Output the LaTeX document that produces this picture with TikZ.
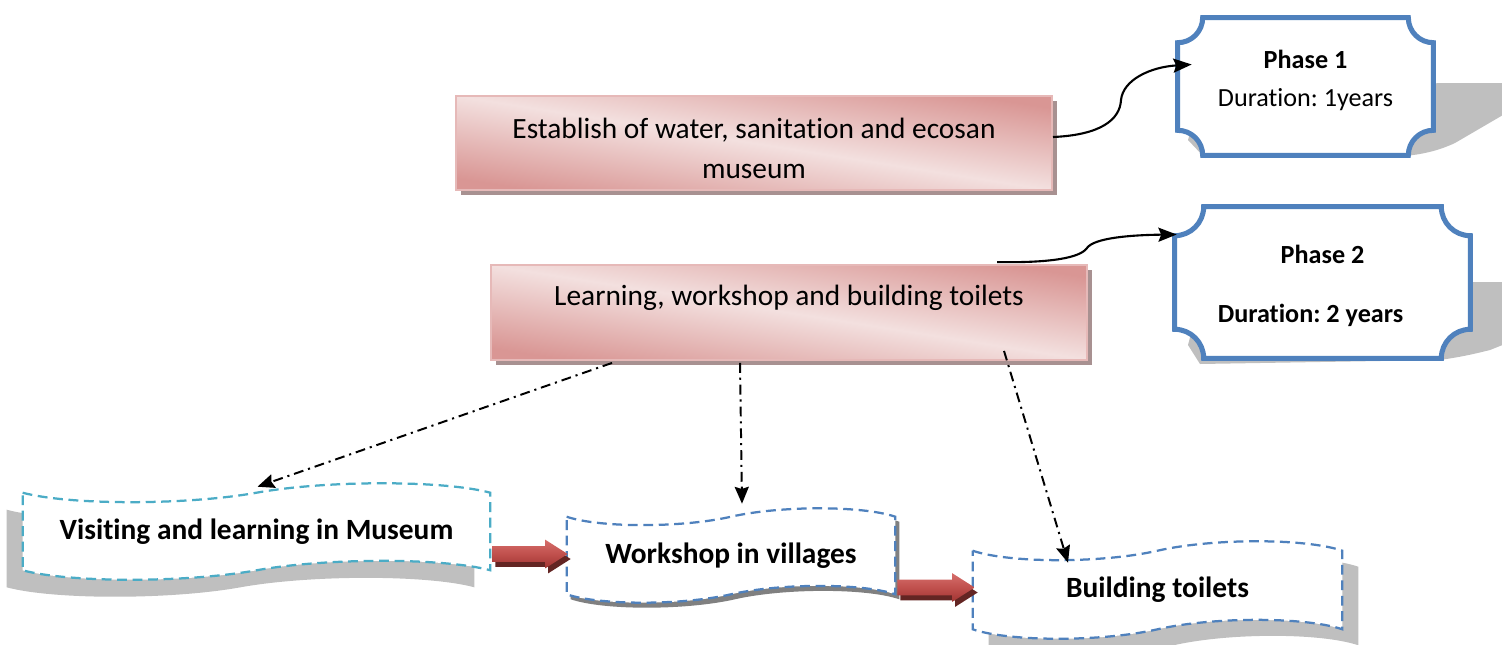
\documentclass[tikz,border=0pt]{standalone}
\usepackage{fontspec}
\setmainfont{Carlito}[Ligatures=NoCommon]
\frenchspacing
\usetikzlibrary{calc,arrows.meta,shadows}
\pgfdeclarelayer{bg}
\pgfdeclarelayer{shape}
\pgfsetlayers{bg,shape,main}
\definecolor{pinkdark}{RGB}{217,150,148}
\definecolor{pinklight}{RGB}{243,224,223}
\definecolor{pinkborder}{RGB}{230,185,184}
\definecolor{boxshadow}{RGB}{168,145,145}
\definecolor{phaseblue}{RGB}{79,129,189}
\definecolor{visitcyan}{RGB}{75,172,198}
\definecolor{shadowgray}{RGB}{191,191,191}
\definecolor{darkshadow}{RGB}{128,128,128}
\definecolor{arrowdark}{RGB}{99,37,35}
\definecolor{arrowtop}{RGB}{214,110,107}
\definecolor{arrowmid}{RGB}{192,80,77}
\definecolor{arrowbot}{RGB}{160,52,50}
\newcommand\basefont{\fontsize{20.9}{28.4}\selectfont}
\newcommand\phasefont{\fontsize{18.6}{27}\selectfont}
% wave outline of a node #1 with amplitude #2 (px)
\newcommand\wavepath[2]{%
 (#1.north west) .. controls ($(#1.north west)!0.1!(#1.north east)+(0,1.4*#2)$) and ($(#1.north west)!0.35!(#1.north east)+(0,1.4*#2)$) .. (#1.north)
 .. controls ($(#1.north west)!0.65!(#1.north east)+(0,-1.4*#2)$) and ($(#1.north west)!0.9!(#1.north east)+(0,-1.4*#2)$) .. (#1.north east)
 -- (#1.south east)
 .. controls ($(#1.south west)!0.9!(#1.south east)+(0,-1.4*#2)$) and ($(#1.south west)!0.65!(#1.south east)+(0,-1.4*#2)$) .. (#1.south)
 .. controls ($(#1.south west)!0.35!(#1.south east)+(0,1.4*#2)$) and ($(#1.south west)!0.1!(#1.south east)+(0,1.4*#2)$) .. (#1.south west) -- cycle}
% plaque outline (concave corners) of node #1 with radius #2 (px)
\newcommand\plaquepath[2]{%
 ($(#1.north west)+(#2,0)$) -- ($(#1.north east)+(-#2,0)$)
 .. controls ($(#1.north east)+(-#2,0.552*#2)$) and ($(#1.north east)+(-0.552*#2,#2)$) .. ($(#1.north east)+(0,#2)$)
 -- ($(#1.south east)+(0,-#2)$)
 .. controls ($(#1.south east)+(-0.552*#2,-#2)$) and ($(#1.south east)+(-#2,-0.552*#2)$) .. ($(#1.south east)+(-#2,0)$)
 -- ($(#1.south west)+(#2,0)$)
 .. controls ($(#1.south west)+(#2,-0.552*#2)$) and ($(#1.south west)+(0.552*#2,-#2)$) .. ($(#1.south west)+(0,-#2)$)
 -- ($(#1.north west)+(0,#2)$)
 .. controls ($(#1.north west)+(0.552*#2,#2)$) and ($(#1.north west)+(#2,0.552*#2)$) .. cycle}
% block arrow from #1 to the x of #2
\newcommand\arrowpath[2]{%
 let \p1=(#1), \p2=(#2) in
 (\x1,\y1+5.6pt) -- (\x2-16pt,\y1+5.6pt) -- (\x2-16pt,\y1+10.2pt) -- (\x2,\y1)
 -- (\x2-16pt,\y1-10.2pt) -- (\x2-16pt,\y1-5.6pt) -- (\x1,\y1-5.6pt) -- cycle}
\tikzset{
 pinkbox/.style={draw=pinkborder, line width=1.3pt,
   left color=pinkdark, right color=pinkdark, middle color=pinklight, shading angle=-9,
   drop shadow={shadow xshift=3.5pt, shadow yshift=-3.5pt, fill=boxshadow, opacity=1},
   inner sep=0pt, font=\basefont, align=center},
 wavetxt/.style={inner sep=0pt, font=\basefont\bfseries},
 phasetxt/.style={inner sep=0pt, font=\phasefont, align=center},
 wavevisit/.style={draw=visitcyan, fill=white, line width=1.6pt, dash pattern=on 7pt off 4pt},
 waveblue/.style={draw=phaseblue, fill=white, line width=1.6pt, dash pattern=on 7pt off 4pt},
 plaque/.style={draw=phaseblue, fill=white, line width=3.6pt, line join=miter},
 conn/.style={line width=1.5pt, -{Stealth[length=13pt,width=10pt,inset=2pt]}},
 dashdot/.style={line width=1.4pt, dash pattern=on 7pt off 3.5pt on 1.5pt off 3.5pt,
   -{Stealth[length=12pt,width=10pt,inset=1.5pt]}},
 arrowshade/.style={top color=arrowtop, bottom color=arrowbot, middle color=arrowmid},
}
\begin{document}
\begin{tikzpicture}[x=0.025cm,y=-0.025cm]
\useasboundingbox (0,0) rectangle (1502,645);

% ---------- nodes ----------
\node[pinkbox, minimum width=14.9cm, minimum height=2.35cm] (A) at (754,143)
  {\rule{0pt}{22.5pt}Establish of water, sanitation and ecosan\\museum};
\node[pinkbox, align=none, minimum width=14.9cm, minimum height=2.375cm,
  text height=0.45cm, text depth=0.825cm] (B) at (789,312.5)
  {Learning, workshop and building toilets};

\node[phasetxt, minimum width=6.375cm, minimum height=3.425cm] (P1) at (1305.5,86.5)
  {\textbf{Phase 1}\\Duration: 1years\rule[-11pt]{0pt}{0pt}};
\node[phasetxt, minimum width=7.375cm, minimum height=3.775cm] (P2) at (1322.5,282.5)
  {\rule{0pt}{17.5pt}\textbf{Phase 2}\\[14.8pt]\textbf{Duration: 2 years}\hspace*{0.6cm}};

\node[wavetxt, minimum width=11.675cm, minimum height=1.925cm] (V) at (256.5,531.5)
  {Visiting and learning in Museum};
\node[wavetxt, minimum width=8.2cm, minimum height=1.925cm] (W) at (731,555.5)
  {Workshop in villages};
\node[wavetxt, minimum width=9.225cm, minimum height=1.95cm] (Bt) at (1157.5,590)
  {Building toilets};

% ---------- shadows ----------
\begin{pgfonlayer}{bg}
  \fill[shadowgray, transform canvas={shift={(-16,17)}}] \wavepath{V}{9};
  \fill[darkshadow, transform canvas={shift={(4,5)}}] \wavepath{W}{8};
  \fill[shadowgray, transform canvas={shift={(16,16)}}] \wavepath{Bt}{9};
  \fill[shadowgray] (1188,140) -- (1200,100) -- (1440,83) -- (1515,83) -- (1515,108)
    -- (1455,143) .. controls (1440,150) and (1425,154) .. (1405,156) -- (1205,158) -- cycle;
  \fill[shadowgray] (1188,345) -- (1200,300) -- (1470,282) -- (1515,282) -- (1515,340)
    -- (1490,350) .. controls (1470,355) and (1460,357) .. (1440,360) -- (1200,364) -- cycle;
\end{pgfonlayer}

% ---------- outlines ----------
\begin{pgfonlayer}{shape}
  \draw[wavevisit] \wavepath{V}{9};
  \draw[waveblue] \wavepath{W}{8};
  \draw[waveblue] \wavepath{Bt}{9};
  \draw[plaque] \plaquepath{P1}{25};
  \draw[plaque] \plaquepath{P2}{29};
\end{pgfonlayer}

% ---------- connectors ----------
\draw[conn] ($(A.east)+(0,-6)$) .. controls (1100,135) and (1120,120) .. (1121,100)
  .. controls (1123,80) and (1150,67) .. ($(P1.west)+(14,-22)$);
\draw[conn] ($(B.north west)+(507,-2)$) .. controls (1050,263) and (1080,258) .. (1087,248)
  .. controls (1094,238) and (1130,235) .. ($(P2.west)+(2,-48)$);

\draw[dashdot] ($(B.south west)+(122,2)$) -- ($(V.north)+(1,-6)$);
\draw[dashdot] ($(B.south west)+(250,2)$) -- ($(W.north)+(11,-13)$);
\draw[dashdot] ($(B.south west)+(514,-10)$) -- ($(Bt.north)+(-89.5,12)$);

% ---------- block arrows ----------
\coordinate (a1s) at ($(V.east)+(2,22.5)$);
\coordinate (a1e) at ($(W.west)+(1,0)$);
\coordinate (a2s) at ($(W.east)+(2,32)$);
\coordinate (a2e) at ($(Bt.west)+(2,0)$);
\fill[arrowdark, transform canvas={shift={(3,5)}}] \arrowpath{a1s}{a1e};
\shade[arrowshade] \arrowpath{a1s}{a1e};
\fill[arrowdark, transform canvas={shift={(3,5)}}] \arrowpath{a2s}{a2e};
\shade[arrowshade] \arrowpath{a2s}{a2e};
\end{tikzpicture}
\end{document}
